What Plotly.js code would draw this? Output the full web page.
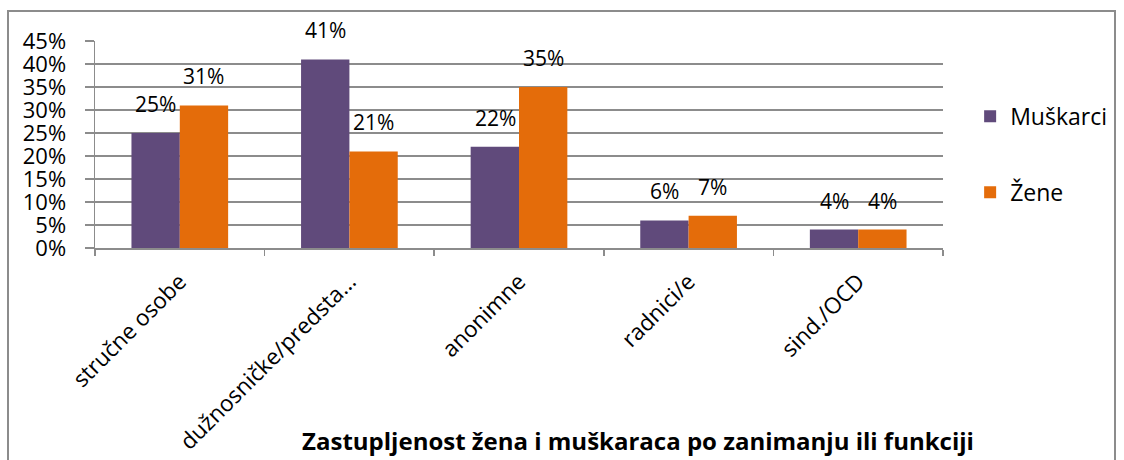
<!DOCTYPE html>
<html><head><meta charset="utf-8">
<script src="https://cdn.plot.ly/plotly-3.0.1.min.js"></script>
<style>
html,body{margin:0;padding:0;background:#fff;}
#wrap{position:relative;width:1124px;height:460px;}
#chart{width:1124px;height:460px;}
#frame{position:absolute;left:7px;top:10px;width:1109px;height:470px;border:2px solid #8c8c8c;box-sizing:border-box;pointer-events:none;}
</style></head>
<body>
<div id="wrap"><div id="chart"></div><div id="frame"></div></div>
<script>
const categories = ["stručne osobe", "dužnosničke/predsta…", "anonimne", "radnici/e", "sind./OCD"];
const muskarci = [25, 41, 22, 6, 4];
const zene = [31, 21, 35, 7, 4];
const seriesNames = ["Muškarci", "Žene"];
const colors = ["#604A7B", "#E46C0A"];
const yTicks = [0, 5, 10, 15, 20, 25, 30, 35, 40, 45];
const chartTitle = "Zastupljenost žena i muškaraca po zanimanju ili funkciji";

const FONT = "'Open Sans', 'DejaVu Sans', sans-serif";
const series = [muskarci, zene];

const traces = series.map((vals, i) => ({
  type: "bar",
  name: seriesNames[i],
  x: categories,
  y: vals,
  marker: {color: colors[i]},
  legendgroup: "g" + i,
  hoverinfo: "skip"
}));

const annotations = [];
series.forEach((vals, i) => {
  vals.forEach((v, j) => {
    annotations.push({
      x: categories[j], y: v, xref: "x", yref: "y",
      text: v + "%", showarrow: false,
      xshift: i === 0 ? -24 : 24, yshift: 29,
      font: {family: FONT, size: 21, color: "#000"}
    });
  });
});

const layout = {
  width: 1124, height: 460,
  margin: {l: 95, r: 181, t: 41, b: 212},
  paper_bgcolor: "rgba(0,0,0,0)",
  plot_bgcolor: "#fff",
  bargap: 0.43,
  bargroupgap: 0,
  barmode: "group",
  showlegend: true,
  legend: {
    x: 1.032, xanchor: "left", y: 0.74, yanchor: "top",
    font: {family: FONT, size: 23, color: "#000"},
    tracegroupgap: 43, traceorder: "grouped",
    bgcolor: "rgba(0,0,0,0)"
  },
  title: {
    text: "<b>" + chartTitle + "</b>",
    x: 638 / 1124, xanchor: "center", xref: "container",
    y: 1 - 442 / 460, yanchor: "middle", yref: "container",
    font: {family: FONT, size: 24, color: "#000"}
  },
  xaxis: {
    type: "category",
    tickangle: -45,
    tickson: "boundaries",
    ticks: "outside", ticklen: 6, tickcolor: "#8c8c8c", tickwidth: 1.5,
    ticklabelstandoff: 10,
    showline: true, linecolor: "#8c8c8c", linewidth: 1.5,
    showgrid: false,
    tickfont: {family: FONT, size: 22.5, color: "#000"},
    fixedrange: true
  },
  yaxis: {
    range: [0, 45],
    tickvals: yTicks,
    ticktext: yTicks.map(v => v + "%"),
    ticks: "outside", ticklen: 9, tickcolor: "#8c8c8c", tickwidth: 1.5,
    ticklabelstandoff: 14,
    showline: true, linecolor: "#8c8c8c", linewidth: 1.5,
    showgrid: true, gridcolor: "#8c8c8c", gridwidth: 1.5,
    zeroline: false,
    tickfont: {family: FONT, size: 22, color: "#000"},
    fixedrange: true
  },
  annotations: annotations
};

Plotly.newPlot("chart", traces, layout, {displayModeBar: false, staticPlot: true});
</script>
</body></html>
